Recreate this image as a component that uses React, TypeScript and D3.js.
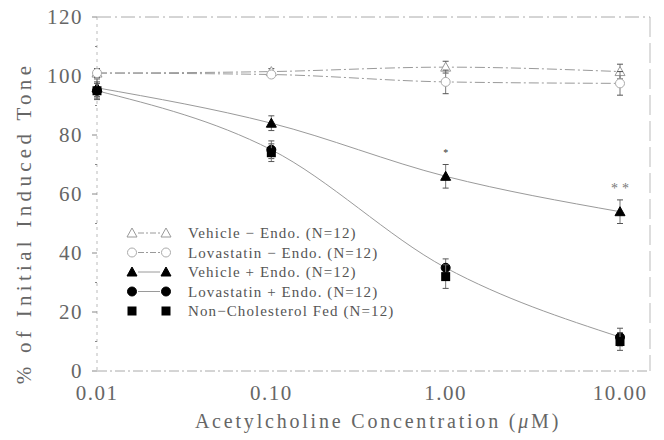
import React from 'react';
import * as d3 from 'd3';

const conc = [0.01, 0.1, 1, 10];
const xTicks = [0.01, 0.1, 1, 10];
const xTickLabels = ['0.01', '0.10', '1.00', '10.00'];
const yTicks = [0, 20, 40, 60, 80, 100, 120];

const vehPlus = [101, 101.5, 103, 101.5];
const vehPlusErr = [1.5, 1, 2, 2.5];
const lovPlus = [101, 100.5, 98, 97.5];
const lovPlusErr = [1.5, 1, 4, 4];
const vehMinus = [96, 84, 66, 54];
const vehMinusErr = [3, 2.5, 4, 4];
const lovMinus = [95, 75, 35, 11.5];
const lovMinusErr = [3, 3, 3, 3];
const nonChol = [95, 74, 32, 10];
const nonCholErr = [2.5, 3, 4, 3];

const legendLabels = [
  'Vehicle − Endo. (N=12)',
  'Lovastatin − Endo. (N=12)',
  'Vehicle + Endo. (N=12)',
  'Lovastatin + Endo. (N=12)',
  'Non−Cholesterol Fed (N=12)',
];

type Sym = 'otri' | 'ocirc' | 'ftri' | 'fcirc' | 'fsq';

const series: { name: string; values: number[]; err: number[]; sym: Sym; dashed: boolean; line: boolean }[] = [
  { name: legendLabels[0], values: vehPlus, err: vehPlusErr, sym: 'otri', dashed: true, line: true },
  { name: legendLabels[1], values: lovPlus, err: lovPlusErr, sym: 'ocirc', dashed: true, line: true },
  { name: legendLabels[2], values: vehMinus, err: vehMinusErr, sym: 'ftri', dashed: false, line: true },
  { name: legendLabels[3], values: lovMinus, err: lovMinusErr, sym: 'fcirc', dashed: false, line: true },
  { name: legendLabels[4], values: nonChol, err: nonCholErr, sym: 'fsq', dashed: false, line: false },
];

const W = 664;
const H = 440;
const left = 97;
const right = 620;
const frameRight = 650;
const top = 17;
const bottom = 371;
const serif = '"Liberation Serif", "DejaVu Serif", serif';
const textColor = '#666';
const lineColor = '#9a9a9a';

const Marker: React.FC<{ sym: Sym; x: number; y: number }> = ({ sym, x, y }) => {
  const s = 5;
  if (sym === 'otri' || sym === 'ftri') {
    const open = sym === 'otri';
    return (
      <path
        d={`M${x},${y - s} L${x + s},${y + s * 0.8} L${x - s},${y + s * 0.8} Z`}
        fill={open ? '#fff' : '#000'}
        stroke={open ? '#999' : '#000'}
        strokeWidth={1}
      />
    );
  }
  if (sym === 'ocirc' || sym === 'fcirc') {
    const open = sym === 'ocirc';
    return <circle cx={x} cy={y} r={4.5} fill={open ? '#fff' : '#000'} stroke={open ? '#aaa' : '#000'} strokeWidth={1} />;
  }
  return <rect x={x - 4.5} y={y - 4.5} width={9} height={9} fill="#000" />;
};

const App: React.FC = () => {
  const x = d3.scaleLog().domain([0.01, 10]).range([left, right]);
  const y = d3.scaleLinear().domain([0, 120]).range([bottom, top]);
  const line = d3
    .line<number>()
    .x((_, i) => x(conc[i]))
    .y(d => y(d))
    .curve(d3.curveMonotoneX);
  const minorTicks = d3.range(10, 120, 20);

  return (
    <svg width={W} height={H} style={{ position: 'absolute', left: 0, top: 0, background: '#fff' }}>
      {/* frame */}
      <line x1={left} x2={frameRight} y1={y(120)} y2={y(120)} stroke="#aaa" strokeDasharray="14 4 2 4" />
      <line x1={left} x2={frameRight} y1={bottom} y2={bottom} stroke="#aaa" strokeDasharray="10 3 2 3" />
      <line x1={frameRight} x2={frameRight} y1={top} y2={bottom} stroke="#bbb" strokeDasharray="20 6" />
      <line x1={left} x2={left} y1={top} y2={bottom} stroke="#bbb" strokeDasharray="3 4" />

      {yTicks.map(t => (
        <g key={t}>
          <line x1={left - 5} x2={left} y1={y(t)} y2={y(t)} stroke="#888" />
          <text x={left - 14} y={y(t)} dy="0.35em" textAnchor="end" fontFamily={serif} fontSize={21} fill={textColor} letterSpacing={1.5}>
            {t}
          </text>
        </g>
      ))}
      {minorTicks.map(t => (
        <line key={t} x1={left - 2} x2={left} y1={y(t)} y2={y(t)} stroke="#888" />
      ))}
      {xTicks.map((t, i) => (
        <text key={t} x={x(t)} y={bottom + 29} textAnchor="middle" fontFamily={serif} fontSize={21} fill={textColor} letterSpacing={1.5}>
          {xTickLabels[i]}
        </text>
      ))}
      <text x={378} y={428} textAnchor="middle" fontFamily={serif} fontSize={20} fill={textColor} letterSpacing={2.8}>
        Acetylcholine Concentration (<tspan fontStyle="italic">μ</tspan>M)
      </text>
      <text
        transform="translate(31,223) rotate(-90)"
        textAnchor="middle"
        fontFamily={serif}
        fontSize={21}
        fill={textColor}
        letterSpacing={4.3}
      >
        % of Initial Induced Tone
      </text>

      {/* lines */}
      {series
        .filter(s => s.line)
        .map(s => (
          <path
            key={s.name}
            d={line(s.values) || ''}
            fill="none"
            stroke={lineColor}
            strokeWidth={1}
            strokeDasharray={s.dashed ? '10 3 2 3' : undefined}
          />
        ))}

      {/* error bars & markers */}
      {series.map(s =>
        s.values.map((v, i) => (
          <g key={s.name + i}>
            <line x1={x(conc[i])} x2={x(conc[i])} y1={y(v - s.err[i])} y2={y(v + s.err[i])} stroke="#777" />
            <line x1={x(conc[i]) - 3} x2={x(conc[i]) + 3} y1={y(v + s.err[i])} y2={y(v + s.err[i])} stroke="#555" />
            <line x1={x(conc[i]) - 3} x2={x(conc[i]) + 3} y1={y(v - s.err[i])} y2={y(v - s.err[i])} stroke="#555" />
            <Marker sym={s.sym} x={x(conc[i])} y={y(v)} />
          </g>
        ))
      )}
      <text x={x(10) + 2} y={y(62)} dy="0.35em" textAnchor="middle" fontFamily={serif} fontSize={14} fill="#777" letterSpacing={4}>
        **
      </text>
      <text x={x(1)} y={y(74)} dy="0.35em" textAnchor="middle" fontFamily={serif} fontSize={10} fill="#333">
        *
      </text>

      {/* legend */}
      {series.map((s, i) => {
        const ly = 233 + i * 19.5;
        return (
          <g key={'lg' + i}>
            {s.line && (
              <line x1={138} x2={160} y1={ly} y2={ly} stroke={lineColor} strokeDasharray={s.dashed ? '6 2 2 2' : undefined} />
            )}
            <Marker sym={s.sym} x={132} y={ly} />
            <Marker sym={s.sym} x={166} y={ly} />
            <text x={188} y={ly} dy="0.35em" fontFamily={serif} fontSize={15} fill="#555" letterSpacing={1.1}>
              {s.name}
            </text>
          </g>
        );
      })}
    </svg>
  );
};

export default App;
